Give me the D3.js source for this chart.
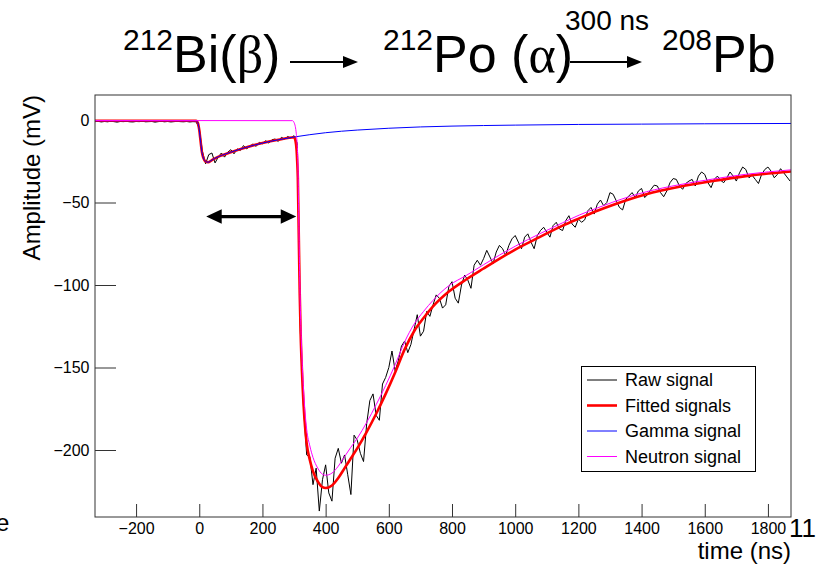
<!DOCTYPE html>
<html lang="en">
<head>
<meta charset="utf-8">
<script src="https://cdn.jsdelivr.net/npm/d3@7"></script>
<style>
  body { margin: 0; background: #fff; }
  text { font-family: "Liberation Sans", Arial, Helvetica, sans-serif; fill: #000; }
  .greek { font-family: "Liberation Serif", "DejaVu Serif", serif; }
</style>
<title></title>
</head>
<body>
<script>
var width = 824, height = 564;
var frame = {left: 95, right: 791, top: 95, bottom: 517};

// axis ranges and ticks
var timeRange = [-330, 1873];
var ampRange = [-240.6, 15.15];
var timeMajor = [-200, 0, 200, 400, 600, 800, 1000, 1200, 1400, 1600, 1800];
var timeMinor = d3.range(-300, 1851, 50);
var ampMajor = [0, -50, -100, -150, -200];
var ampMinor = d3.range(-240, 11, 10);

// raw waveform, one sample every 10 ns starting at -330 ns
var rawStart = -330, rawStep = 10;
var rawAmp = [
  -1.0, -0.8, -1.2, -0.9, -1.1, -0.7, -1.0, -1.3, -0.9, -1.0,   // -330
  -0.8, -1.1, -1.2, -0.9, -1.0, -0.7, -1.1, -1.0, -0.9, -1.3,   // -230
  -1.0, -0.8, -1.1, -0.9, -1.2, -1.0, -0.8, -1.0, -1.1, -0.9,   // -130
  -1.2, -1.0, -1.1, -5, -19, -26.5, -21, -20, -26, -22.5,       // -30
  -20, -22.5, -19.5, -18, -20.5, -17.5, -18.5, -15.5, -17.5, -16, // 70
  -14.5, -16, -13.5, -14.5, -12.5, -14, -12, -11.5, -13, -10.5, // 170
  -11.5, -10, -11, -9.5, -14, -128, -174, -203, -204, -221,     // 270
  -211, -237, -218, -209, -226, -231, -205, -199, -208, -203,   // 370
  -215, -227, -191, -194, -202, -207, -184, -170, -166, -179,   // 470
  -182, -160, -156, -150, -140, -152, -146, -137, -134, -141,   // 570
  -136, -127, -118, -131, -128, -116, -119, -112, -106, -108,   // 670
  -114, -112, -101, -98, -108, -111, -100, -94, -97, -102,      // 770
  -88, -85, -88, -84, -79, -83, -87, -80, -76, -78,             // 870
  -82, -76, -72, -70, -74, -78, -71, -69, -74, -78,             // 970
  -70, -67, -65, -68, -71, -64, -62, -66, -67, -61,             // 1070
  -58, -63, -65, -60, -62, -60.5, -55, -53, -57, -51,           // 1170
  -48.5, -52, -50, -44, -45, -49, -53, -54.5, -48, -46,         // 1270
  -44, -47, -43, -41.5, -47, -45, -42, -39.5, -40, -44,         // 1370
  -46.5, -43, -38, -35.5, -36, -40, -42, -38.5, -37, -36,       // 1470
  -40, -34, -31.5, -33, -38, -41, -36, -34, -36.5, -38,         // 1570
  -35, -31.5, -34, -37, -32, -28.5, -30, -35, -33.5, -36,       // 1670
  -38.5, -33, -30, -28.5, -31, -35, -33, -29.5, -32, -34.5,     // 1770
  -37                                                           // 1870
];

// gamma (first pulse) fit
var gammaTime = [-330, -10, -5, 0, 4, 8, 13, 19, 28, 40, 50, 70, 100, 150, 200, 250, 300,
                 350, 400, 450, 500, 600, 700, 800, 1000, 1200, 1400, 1600, 1873];
var gammaAmp  = [-0.5, -0.5, -1.5, -6, -12.5, -19, -23, -25, -25.6, -24.3, -23.2, -21.5, -19.5, -16.5, -14, -12, -10.3,
                 -8.9, -7.7, -6.8, -6.1, -5.0, -4.2, -3.7, -3.1, -2.7, -2.5, -2.3, -2.1];

// total fitted signal
var fitTime = [-330, -10, -5, 0, 4, 8, 13, 19, 28, 40, 50, 70, 100, 150, 200, 250, 300,
               305, 308, 310, 312, 315, 318, 321, 325, 330, 335, 340, 350, 360, 375, 390, 400,
               420, 440, 460, 480, 500, 530, 560, 590, 620, 650, 680, 710, 740, 790, 846, 900,
               951, 1000, 1077, 1150, 1204, 1260, 1309, 1415, 1520, 1625, 1730, 1873];
var fitAmp  = [-0.5, -0.5, -1.5, -6, -12.5, -19, -23, -25, -25.6, -24.3, -23.2, -21.5, -19.5, -16.5, -14, -12, -10.5,
               -13, -18, -25, -35, -70, -105, -130, -152, -172, -186, -196, -206, -213, -219, -222.5, -223,
               -221.5, -217, -211, -205, -199, -189, -178, -166, -153, -139, -128, -120, -113, -104, -96.5, -90,
               -84, -78.5, -71, -64, -59.5, -55, -51.5, -45, -40.5, -37, -34, -31.2];

// neutron (alpha) fit
var neutronTime = [-330, 295, 300, 304, 307, 310, 312, 315, 318, 321, 325, 330, 335, 340, 350, 360, 375, 390, 400,
                   420, 440, 460, 480, 500, 530, 560, 590, 620, 650, 680, 710, 740, 790, 846, 900,
                   951, 1000, 1077, 1150, 1204, 1260, 1309, 1415, 1520, 1625, 1730, 1873];
var neutronAmp  = [-0.3, -0.4, -1.5, -4, -8, -15, -24, -60, -95, -121, -143, -163, -177.5, -187.5, -197.5, -204.5, -211, -214.7, -215.3,
                   -214, -209.8, -204, -198.3, -192.9, -183.3, -172.5, -160.9, -148.3, -134.5, -123.7, -116, -109.3, -100.4, -94.1, -87.7,
                   -81.8, -76.5, -69, -62.3, -57.5, -53.3, -49.8, -43.5, -39.2, -35.8, -32.9, -30.2];

// double arrow marking the 300 ns delay
var delayFrom = 22, delayTo = 307, delayAmp = -58.5;

var legendItems = ["Raw signal", "Fitted signals", "Gamma signal", "Neutron signal"];
var legendColors = ["#000000", "#ff0000", "#0000ff", "#ff00ff"];
var legendWidths = [1, 2.6, 1, 1];

var svg = d3.select("body").append("svg").attr("width", width).attr("height", height);

var x = d3.scaleLinear().domain(timeRange).range([frame.left, frame.right]);
var y = d3.scaleLinear().domain(ampRange).range([frame.bottom, frame.top]);

svg.append("defs").append("clipPath").attr("id", "plotclip")
  .append("rect")
    .attr("x", frame.left).attr("y", frame.top)
    .attr("width", frame.right - frame.left).attr("height", frame.bottom - frame.top);

// axes: ticks drawn inside the frame like ROOT does
var fmt = d3.format("d");
var gx = svg.append("g").attr("transform", "translate(0," + frame.bottom + ")");
gx.call(d3.axisBottom(x).tickValues(timeMinor).tickSizeInner(-6.5).tickSizeOuter(0).tickFormat(""));
gx.call(d3.axisBottom(x).tickValues(timeMajor).tickSizeInner(-13).tickSizeOuter(0).tickPadding(6).tickFormat(fmt));
gx.selectAll(".domain").remove();

var gy = svg.append("g").attr("transform", "translate(" + frame.left + ",0)");
gy.call(d3.axisLeft(y).tickValues(ampMinor).tickSizeInner(-10.5).tickSizeOuter(0).tickFormat(""));
gy.call(d3.axisLeft(y).tickValues(ampMajor).tickSizeInner(-21).tickSizeOuter(0).tickPadding(5.5).tickFormat(fmt));
gy.selectAll(".domain").remove();

svg.selectAll(".tick line").attr("stroke", "#333");
svg.selectAll(".tick text").attr("font-size", 16)
  .attr("font-family", "'Liberation Sans', Arial, sans-serif").attr("fill", "#000");

// curves
var plot = svg.append("g").attr("clip-path", "url(#plotclip)");

var rawLine = d3.line()
  .x(function(d, i) { return x(rawStart + i * rawStep); })
  .y(function(d) { return y(d); });

plot.append("path").datum(rawAmp)
  .attr("d", rawLine)
  .attr("fill", "none").attr("stroke", "#000").attr("stroke-width", 1);

function smooth(times) {
  return d3.line()
    .x(function(d, i) { return x(times[i]); })
    .y(function(d) { return y(d); })
    .curve(d3.curveMonotoneX);
}

plot.append("path").datum(fitAmp)
  .attr("d", smooth(fitTime))
  .attr("fill", "none").attr("stroke", "#ff0000").attr("stroke-width", 2.6);

plot.append("path").datum(gammaAmp)
  .attr("d", smooth(gammaTime))
  .attr("fill", "none").attr("stroke", "#0000ff").attr("stroke-width", 1);

plot.append("path").datum(neutronAmp)
  .attr("d", smooth(neutronTime))
  .attr("fill", "none").attr("stroke", "#ff00ff").attr("stroke-width", 1);

// frame
svg.append("rect")
  .attr("x", frame.left).attr("y", frame.top)
  .attr("width", frame.right - frame.left).attr("height", frame.bottom - frame.top)
  .attr("fill", "none").attr("stroke", "#333").attr("stroke-width", 1);

// double arrow
var ax0 = x(delayFrom), ax1 = x(delayTo), ay = y(delayAmp);
var head = 15.5, half = 7.3;
svg.append("line")
  .attr("x1", ax0 + head - 2).attr("x2", ax1 - head + 2)
  .attr("y1", ay).attr("y2", ay)
  .attr("stroke", "#000").attr("stroke-width", 3.3);
svg.append("path")
  .attr("d", "M" + ax0 + "," + ay + "L" + (ax0 + head) + "," + (ay - half) + "L" + (ax0 + head) + "," + (ay + half) + "Z" +
             "M" + ax1 + "," + ay + "L" + (ax1 - head) + "," + (ay - half) + "L" + (ax1 - head) + "," + (ay + half) + "Z")
  .attr("fill", "#000");

// legend
var leg = svg.append("g");
leg.append("rect")
  .attr("x", 581.5).attr("y", 366.5).attr("width", 174).attr("height", 105)
  .attr("fill", "#fff").attr("stroke", "#000").attr("stroke-width", 1);
legendItems.forEach(function(name, i) {
  var ly = 380 + i * 25.5;
  leg.append("line")
    .attr("x1", 587).attr("x2", 617).attr("y1", ly).attr("y2", ly)
    .attr("stroke", legendColors[i]).attr("stroke-width", legendWidths[i]);
  leg.append("text")
    .attr("x", 625).attr("y", ly).attr("dy", "0.35em")
    .attr("font-size", 18).text(name);
});

// axis titles
svg.append("text")
  .attr("transform", "translate(40,95) rotate(-90)")
  .attr("text-anchor", "end").attr("font-size", 24)
  .text("Amplitude (mV)");
svg.append("text")
  .attr("x", frame.right).attr("y", 559)
  .attr("text-anchor", "end").attr("font-size", 24)
  .text("time (ns)");

// stray text pieces at the page edges
svg.append("text").attr("x", -4).attr("y", 531).attr("font-size", 24).text("e");
svg.append("text").attr("x", 789).attr("y", 537).attr("font-size", 26).text("11");

// decay chain title
function chainText(x0, parts) {
  var t = svg.append("text").attr("x", x0).attr("y", 72);
  var shift = 0;
  parts.forEach(function(p) {
    var s = t.append("tspan").text(p.s)
      .attr("font-size", p.sup ? 30 : 52)
      .attr("dy", (p.sup ? -22 : 0) - shift);
    if (p.greek) s.attr("class", "greek");
    shift = p.sup ? -22 : 0;
  });
}
chainText(123, [{s: "212", sup: true}, {s: "Bi("}, {s: "β", greek: true}, {s: ")"}]);
chainText(383, [{s: "212", sup: true}, {s: "Po ("}, {s: "α", greek: true}, {s: ")"}]);
chainText(662, [{s: "208", sup: true}, {s: "Pb"}]);

svg.append("text").attr("x", 565).attr("y", 30).attr("font-size", 28).text("300 ns");

function chainArrow(x0, x1, yy) {
  svg.append("line").attr("x1", x0).attr("x2", x1 - 10).attr("y1", yy).attr("y2", yy)
    .attr("stroke", "#000").attr("stroke-width", 2);
  svg.append("path")
    .attr("d", "M" + x1 + "," + yy + "L" + (x1 - 15) + "," + (yy - 6) + "L" + (x1 - 15) + "," + (yy + 6) + "Z")
    .attr("fill", "#000");
}
chainArrow(290, 358, 62);
chainArrow(570, 642, 62);
</script>
</body>
</html>
